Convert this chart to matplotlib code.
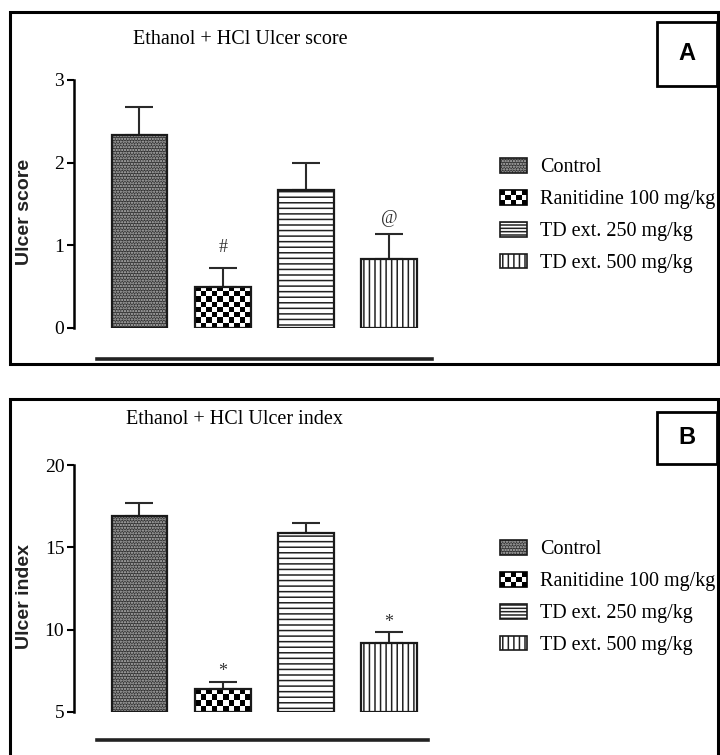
import numpy as np
import matplotlib
matplotlib.use('Agg')
import matplotlib.pyplot as plt
from matplotlib.patches import Rectangle, Patch
from matplotlib.legend_handler import HandlerBase, HandlerTuple

plt.rcParams['font.family'] = ['Liberation Serif', 'DejaVu Serif']
plt.rcParams['hatch.linewidth'] = 1.1

# data
groups = ['Control', 'Ranitidine 100 mg/kg', 'TD ext. 250 mg/kg', 'TD ext. 500 mg/kg']
score_mean = [2.33, 0.50, 1.67, 0.83]
score_sem = [0.34, 0.22, 0.33, 0.31]
score_marks = ['', '#', '', '@']
index_mean = [16.9, 6.4, 15.9, 9.2]
index_sem = [0.8, 0.4, 0.6, 0.65]
index_marks = ['', '*', '', '*']

W, H = 720, 755
fig = plt.figure(figsize=(W / 100, H / 100), dpi=100)


def fx(px):
    return px / W


def fy(py):
    return 1 - py / H


class CheckerHandler(HandlerBase):
    # legend key drawn as a black/white checkerboard
    def create_artists(self, legend, orig_handle, xdescent, ydescent,
                       width, height, fontsize, trans):
        arts = []
        nx, ny = 5, 3
        for i in range(nx):
            for j in range(ny):
                c = 'black' if (i + j) % 2 == 0 else 'white'
                arts.append(Rectangle((-xdescent + i * width / nx, -ydescent + j * height / ny),
                                      width / nx, height / ny, facecolor=c,
                                      edgecolor='none', transform=trans))
        arts.append(Rectangle((-xdescent, -ydescent), width, height, fill=False,
                              edgecolor='black', lw=1.2, transform=trans))
        return arts


def draw_panel(top_px, bot_px, means, sems, marks, mark_gap, ybase, ytop, yticks, ylabel,
               title, title_xy, letter, letter_box, legend_top, line_y, line_right):
    ax = fig.add_axes([fx(74), fy(bot_px), fx(432) - fx(74), fy(top_px) - fy(bot_px)])
    x = np.arange(len(means))
    w = 0.67
    heights = [m - ybase for m in means]

    # control: dense dotted fill
    ax.bar(x[0], heights[0], w, bottom=ybase, color='#333333', hatch='......',
           edgecolor='#bdbdbd', linewidth=0, zorder=2)
    # ranitidine: checkerboard image inside the bar
    px_per_unit = (bot_px - top_px) / (ytop - ybase)
    ny = max(2, int(round(heights[1] * px_per_unit / 5.4)))
    nx = 10
    board = (np.add.outer(np.arange(ny), np.arange(nx)) % 2).astype(float)
    ax.imshow(board, cmap='gray', interpolation='nearest', aspect='auto',
              extent=(x[1] - w / 2, x[1] + w / 2, ybase, means[1]), zorder=2)
    ax.bar(x[2], heights[2], w, bottom=ybase, color='white', hatch='---',
           edgecolor='#222222', linewidth=0, zorder=2)
    ax.bar(x[3], heights[3], w, bottom=ybase, color='white', hatch='|||',
           edgecolor='#222222', linewidth=0, zorder=2)
    # outlines
    ax.bar(x, heights, w, bottom=ybase, fill=False, edgecolor='#1a1a1a',
           linewidth=1.6, zorder=3)
    ax.errorbar(x, means, yerr=[np.zeros(len(sems)), sems], fmt='none',
                ecolor='#2a2a2a', elinewidth=1.5, capsize=10, capthick=1.5, zorder=1)
    for xi, m, s, t, g in zip(x, means, sems, marks, mark_gap):
        if t:
            ax.annotate(t, (xi, m + s), xytext=(0, g), textcoords='offset points',
                        ha='center', va='bottom', fontsize=13, color='#333333')

    ax.set_xlim(-0.787, 3.516)
    ax.set_ylim(ybase, ytop)
    ax.set_yticks(yticks)
    ax.tick_params(axis='y', length=5, width=1.5, labelsize=14, pad=2)
    ax.set_xticks([])
    for s in ['top', 'right', 'bottom']:
        ax.spines[s].set_visible(False)
    ax.spines['left'].set_linewidth(1.8)
    ax.patch.set_visible(False)

    fig.text(fx(25), fy((top_px + bot_px) / 2 + 8), ylabel, rotation=90,
             ha='center', va='center', fontsize=14, fontweight='bold',
             family='Liberation Sans', color='#222222')
    fig.text(fx(title_xy[0]), fy(title_xy[1]), title, ha='center', va='center',
             fontsize=14.5)

    # thick line under the bars
    fig.add_artist(plt.Line2D([fx(97), fx(line_right)], [fy(line_y), fy(line_y)],
                              color='#222222', lw=2.6))

    # panel letter box
    bx0, by0, bx1, by1 = letter_box
    fig.add_artist(Rectangle((fx(bx0), fy(by1)), fx(bx1) - fx(bx0), fy(by0) - fy(by1),
                             fill=False, edgecolor='black', lw=2.0))
    fig.text(fx((bx0 + bx1) / 2), fy((by0 + by1) / 2), letter, ha='center', va='center',
             fontsize=17, fontweight='bold', family='Liberation Sans')

    # legend
    h_ctrl = (Patch(facecolor='#333333', hatch='......', edgecolor='#bdbdbd', lw=0),
              Patch(fill=False, edgecolor='#1a1a1a', lw=1.2))
    h_ran = Patch(facecolor='black')
    h_250 = (Patch(facecolor='white', hatch='-----', edgecolor='#222222', lw=0),
             Patch(fill=False, edgecolor='#1a1a1a', lw=1.2))
    h_500 = (Patch(facecolor='white', hatch='|||', edgecolor='#222222', lw=0),
             Patch(fill=False, edgecolor='#1a1a1a', lw=1.2))
    fig.legend([h_ctrl, h_ran, h_250, h_500], groups, loc='upper left',
               bbox_to_anchor=(fx(500), fy(legend_top)), bbox_transform=fig.transFigure,
               frameon=False, fontsize=14.5, borderpad=0, borderaxespad=0,
               handlelength=1.35, handleheight=0.75, handletextpad=0.65,
               labelspacing=0.62,
               handler_map={tuple: HandlerTuple(ndivide=1), h_ran: CheckerHandler()})
    return ax


# outer panel frames
fig.add_artist(Rectangle((fx(10), fy(364)), fx(718) - fx(10), fy(12) - fy(364),
                         fill=False, edgecolor='black', lw=2.2))
fig.add_artist(Rectangle((fx(10), fy(770)), fx(718) - fx(10), fy(399) - fy(770),
                         fill=False, edgecolor='black', lw=2.2, clip_on=False))

draw_panel(80, 328, score_mean, score_sem, score_marks, [0, 9, 0, 5], 0, 3, [0, 1, 2, 3],
           'Ulcer score', 'Ethanol + HCl Ulcer score', (240, 39), 'A',
           (657, 22, 717, 86), 158, 359, 432)
draw_panel(465, 712, index_mean, index_sem, index_marks, [0, 2, 0, 1], 5, 20, [5, 10, 15, 20],
           'Ulcer index', 'Ethanol + HCl Ulcer index', (235, 420), 'B',
           (657, 412, 717, 464), 540, 740, 428)

fig.savefig('out.png', dpi=100)
